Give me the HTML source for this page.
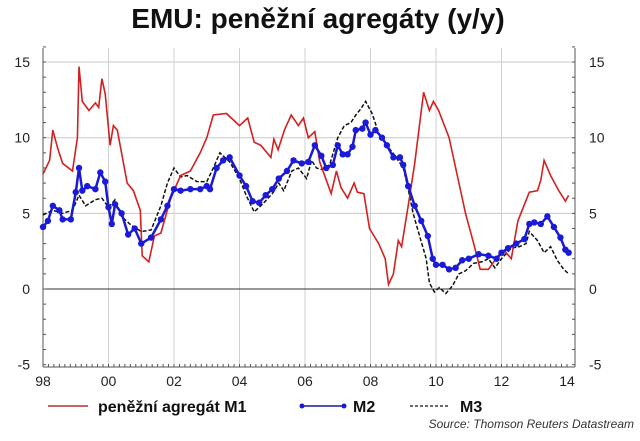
<!DOCTYPE html>
<html><head><meta charset="utf-8"><style>
body{margin:0;background:#fff;width:640px;height:436px;overflow:hidden;font-family:"Liberation Sans",sans-serif}
</style></head><body>
<svg id="c" width="640" height="436" xmlns="http://www.w3.org/2000/svg">
<text x="318" y="28" text-anchor="middle" font-size="28" font-weight="bold" fill="#111">EMU: peněžní agregáty (y/y)</text>
</svg>
<script>
const xTicks=[1998,2000,2002,2004,2006,2008,2010,2012,2014];
const xTickLabels=["98","00","02","04","06","08","10","12","14"];
const yTicks=[-5,0,5,10,15];
const m1T=[1998.0,1998.2,1998.3,1998.45,1998.6,1998.9,1999.05,1999.1,1999.2,1999.4,1999.6,1999.7,1999.8,1999.9,2000.05,2000.15,2000.27,2000.57,2000.76,2000.97,2001.03,2001.23,2001.4,2001.6,2001.9,2002.2,2002.5,2002.8,2003.0,2003.2,2003.6,2003.8,2004.0,2004.25,2004.45,2004.65,2004.96,2005.05,2005.18,2005.37,2005.58,2005.8,2005.95,2006.1,2006.3,2006.45,2006.8,2006.96,2007.1,2007.3,2007.5,2007.6,2007.8,2007.97,2008.25,2008.45,2008.55,2008.7,2008.85,2008.95,2009.15,2009.35,2009.62,2009.8,2009.92,2010.08,2010.4,2010.65,2010.9,2011.15,2011.35,2011.6,2011.9,2012.1,2012.3,2012.5,2012.85,2013.1,2013.2,2013.3,2013.5,2013.75,2013.95,2014.05];
const m1V=[7.6,8.5,10.5,9.3,8.3,7.8,10,14.7,12.4,11.8,12.3,12,13.9,12.9,9.5,10.8,10.5,7,6.5,5.2,2.2,1.8,3.5,3.7,6,7.5,7.8,9,10,11.5,11.6,11.2,10.8,11.3,9.7,9.5,8.7,9.9,9.2,10.5,11.5,10.8,11.3,10,10.4,8.4,6.3,7.8,6.7,6.0,7.0,6.4,6.3,4.0,3.0,2.0,0.3,1.0,3.2,2.8,5.5,8.3,13.0,11.8,12.4,11.8,10.0,7.5,5.0,3.0,1.3,1.3,2.2,2.5,2.0,4.5,6.4,6.5,7.2,8.5,7.5,6.5,5.8,6.2];
const m2T=[1998.0,1998.15,1998.3,1998.5,1998.6,1998.85,1999.0,1999.1,1999.2,1999.35,1999.6,1999.75,1999.9,2000.0,2000.1,2000.2,2000.4,2000.6,2000.8,2001.0,2001.3,2001.6,2001.8,2002.0,2002.2,2002.5,2002.8,2003.0,2003.1,2003.3,2003.5,2003.7,2004.0,2004.2,2004.4,2004.6,2004.8,2005.0,2005.2,2005.45,2005.65,2005.9,2006.1,2006.3,2006.5,2006.65,2006.85,2007.0,2007.15,2007.3,2007.45,2007.55,2007.75,2007.85,2008.0,2008.15,2008.35,2008.5,2008.7,2008.9,2009.0,2009.15,2009.35,2009.55,2009.75,2009.9,2010.0,2010.2,2010.4,2010.6,2010.8,2011.0,2011.3,2011.6,2011.85,2012.0,2012.2,2012.45,2012.7,2012.85,2013.0,2013.2,2013.4,2013.6,2013.8,2013.95,2014.05];
const m2V=[4.1,4.5,5.5,5.2,4.6,4.6,6.4,8.0,6.5,6.8,6.6,7.7,7.1,5.4,4.3,5.6,5.0,3.6,4.0,3.0,3.4,4.6,5.5,6.6,6.5,6.6,6.6,6.8,6.6,8.0,8.5,8.7,7.5,6.8,5.8,5.7,6.2,6.6,7.3,7.8,8.5,8.3,8.4,9.5,8.8,8.0,8.2,9.5,8.9,8.9,9.4,10.5,10.6,11.0,10.2,10.5,10.0,9.5,8.7,8.7,8.2,6.8,5.5,4.5,3.5,2.0,1.6,1.6,1.3,1.4,1.9,2.0,2.3,2.2,2.0,2.4,2.7,3.0,3.3,4.3,4.4,4.3,4.8,4.1,3.4,2.6,2.4];
const m3T=[1998.0,1998.3,1998.6,1998.9,1999.1,1999.3,1999.6,1999.8,2000.0,2000.2,2000.4,2000.7,2001.0,2001.3,2001.6,2001.8,2002.0,2002.2,2002.4,2002.7,2003.0,2003.2,2003.4,2003.7,2004.0,2004.2,2004.45,2004.7,2005.0,2005.2,2005.35,2005.6,2005.8,2006.05,2006.2,2006.35,2006.5,2006.75,2007.0,2007.2,2007.4,2007.55,2007.7,2007.85,2008.05,2008.25,2008.5,2008.75,2009.0,2009.15,2009.3,2009.5,2009.7,2009.8,2009.95,2010.1,2010.3,2010.5,2010.7,2010.9,2011.15,2011.4,2011.6,2011.8,2012.0,2012.3,2012.55,2012.75,2012.85,2013.1,2013.3,2013.5,2013.7,2013.9,2014.05];
const m3V=[4.9,5.2,5.0,5.2,6.2,5.5,5.9,6.0,5.4,5.9,4.8,4.2,3.8,3.9,5.5,7.0,8.0,7.4,7.5,7.1,7.1,8.0,9.0,8.4,7.3,6.2,5.1,5.6,6.3,7.0,6.5,7.8,8.0,7.3,8.5,8.0,7.9,8.2,10.0,10.8,11.0,11.5,11.9,12.4,11.6,10.3,9.5,8.8,8.0,6.6,5.0,3.5,2.0,0.4,-0.2,0.1,-0.3,0.2,1.0,1.2,1.7,1.8,2.0,1.4,2.0,2.7,2.8,3.0,3.8,3.2,2.4,2.8,1.9,1.3,1.0];

const NS="http://www.w3.org/2000/svg";
const svg=document.getElementById('c');
const L=43,R=575,T=48,B=367;
const X=t=>43+(t-1998)*(567-43)/16;
const Y=v=>289-v*15.13;
function el(tag,attrs,parent){const e=document.createElementNS(NS,tag);for(const k in attrs)e.setAttribute(k,attrs[k]);(parent||svg).appendChild(e);return e;}
const g=el('g',{});


yTicks.forEach(v=>{if(v>0){el('line',{x1:L,x2:R,y1:Y(v),y2:Y(v),stroke:'#c8c8c8','stroke-width':1},g);}});
xTicks.forEach(t=>{if(t>1998&&t<2014){el('line',{x1:X(t),x2:X(t),y1:T,y2:B,stroke:'#d0d0d0','stroke-width':1},g);}});
const zl=el('line',{x1:L,x2:R,y1:Y(0),y2:Y(0),stroke:'#333','stroke-width':1});


const ax=el('g',{stroke:'#555','stroke-width':1});


el('line',{x1:L,x2:L,y1:T,y2:B},ax);
el('line',{x1:R,x2:R,y1:T,y2:B},ax);
el('line',{x1:L,x2:R,y1:B,y2:B},ax);
for(let v=-5;v<=16;v++){el('line',{x1:L,x2:L+3,y1:Y(v),y2:Y(v)},ax);el('line',{x1:R-3,x2:R,y1:Y(v),y2:Y(v)},ax);}
for(let t=1998;t<=2014.01;t+=1/6){el('line',{x1:X(t),x2:X(t),y1:B,y2:B-3},ax);}
yTicks.forEach(v=>{
 const a=el('text',{x:30,y:Y(v)+5,'text-anchor':'end','font-size':14,fill:'#222'});a.textContent=v;
 
 
 const b=el('text',{x:589,y:Y(v)+5,'font-size':14,fill:'#222'});b.textContent=v;
 
 
});
xTicks.forEach((t,i)=>{const a=el('text',{x:X(t),y:386,'text-anchor':'middle','font-size':14,fill:'#222'});a.textContent=xTickLabels[i];
 
 });
const pts=(ts,vs)=>ts.map((t,i)=>X(t).toFixed(1)+','+Y(vs[i]).toFixed(1)).join(' ');
const s3=el('polyline',{points:pts(m3T,m3V),fill:'none',stroke:'#111','stroke-width':1.5,'stroke-dasharray':'4,2'});


const s1=el('polyline',{points:pts(m1T,m1V),fill:'none',stroke:'#d42020','stroke-width':1.6});


const s2=el('polyline',{points:pts(m2T,m2V),fill:'none',stroke:'#1a1ad0','stroke-width':2.5});


m2T.forEach((t,i)=>{const c=el('circle',{cx:X(t),cy:Y(m2V[i]),r:3.2,fill:'#1a1ad8'});
 
 });
const lg=el('g',{});


el('line',{x1:48,x2:88,y1:406,y2:406,stroke:'#b03030','stroke-width':1.5},lg);
let t1=el('text',{x:98,y:412,'font-size':16,'font-weight':'bold',fill:'#111'},lg);t1.textContent='peněžní agregát M1';


el('line',{x1:302,x2:344,y1:406,y2:406,stroke:'#1a1a9a','stroke-width':1.5},lg);
el('circle',{cx:302,cy:406,r:2.5,fill:'#1a1ad0'},lg);el('circle',{cx:344,cy:406,r:2.5,fill:'#1a1ad0'},lg);
let t2=el('text',{x:353,y:412,'font-size':16,'font-weight':'bold',fill:'#111'},lg);t2.textContent='M2';


el('line',{x1:410,x2:450,y1:406,y2:406,stroke:'#111','stroke-width':1.2,'stroke-dasharray':'3,2'},lg);
let t3=el('text',{x:460,y:412,'font-size':16,'font-weight':'bold',fill:'#111'},lg);t3.textContent='M3';


let src=el('text',{x:634,y:428,'text-anchor':'end','font-size':12,'font-style':'italic',fill:'#333'});src.textContent='Source: Thomson Reuters Datastream';


</script>
</body></html>
